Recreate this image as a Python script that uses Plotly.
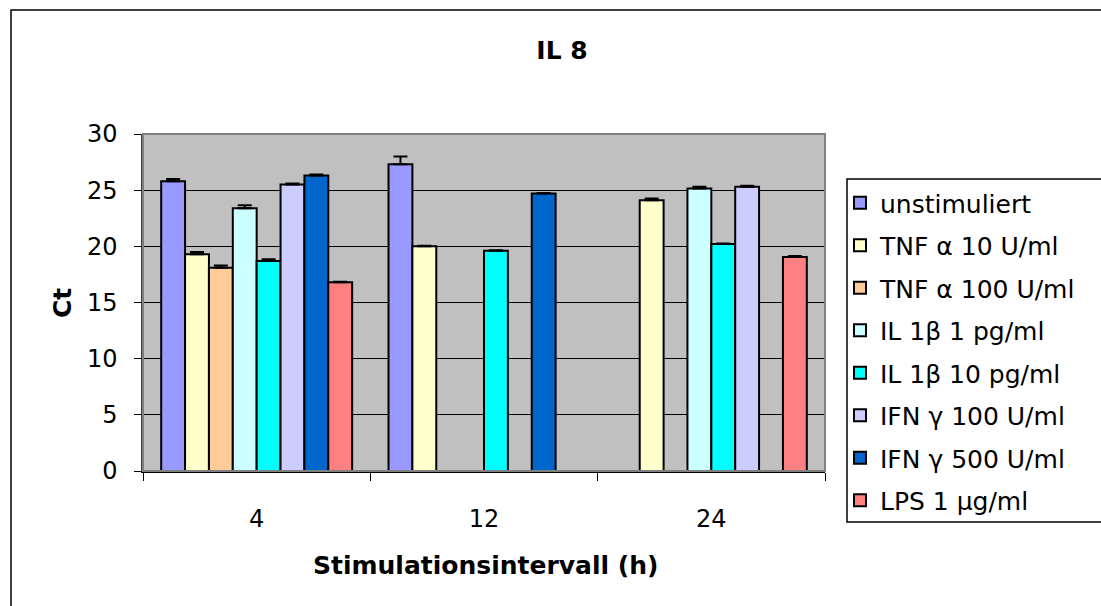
import plotly.graph_objects as go

categories = ["4", "12", "24"]
series_names = ["unstimuliert", "TNF α 10 U/ml", "TNF α 100 U/ml", "IL 1β 1 pg/ml",
                "IL 1β 10 pg/ml", "IFN γ 100 U/ml", "IFN γ 500 U/ml", "LPS 1 µg/ml"]
colors = ["#9999FF", "#FFFFCC", "#FFCC99", "#CCFFFF", "#00FFFF", "#CCCCFF", "#0066CC", "#FF8080"]

unstimuliert = [25.8, 27.3, 0]
tnf_10 = [19.3, 20.0, 24.1]
tnf_100 = [18.1, 0, 0]
il1b_1 = [23.4, 0, 25.15]
il1b_10 = [18.7, 19.6, 20.2]
ifn_100 = [25.5, 0, 25.3]
ifn_500 = [26.3, 24.7, 0]
lps = [16.8, 0, 19.05]

err_unstimuliert = [0.2, 0.7, 0]
err_tnf_10 = [0.2, 0.05, 0.15]
err_tnf_100 = [0.2, 0, 0]
err_il1b_1 = [0.25, 0, 0.15]
err_il1b_10 = [0.15, 0.05, 0.05]
err_ifn_100 = [0.1, 0, 0.1]
err_ifn_500 = [0.1, 0.05, 0]
err_lps = [0.05, 0, 0.1]

values = [unstimuliert, tnf_10, tnf_100, il1b_1, il1b_10, ifn_100, ifn_500, lps]
errors = [err_unstimuliert, err_tnf_10, err_tnf_100, err_il1b_1, err_il1b_10,
          err_ifn_100, err_ifn_500, err_lps]

y_ticks = [0, 5, 10, 15, 20, 25, 30]

FONT = "DejaVu Sans, Liberation Sans, Arial, sans-serif"

fig = go.Figure()
for i, name in enumerate(series_names):
    fig.add_trace(go.Bar(
        x=categories, y=values[i], name=name,
        legendgroup=f"g{i}",
        marker=dict(color=colors[i], line=dict(color="black", width=2)),
        error_y=dict(type="data", array=errors[i], arrayminus=[0] * len(errors[i]),
                     symmetric=False, color="black", thickness=2, width=7),
    ))

W, H = 1101, 606
L, R, T, B = 143, 825, 134, 471
pw, ph = R - L, B - T

def px(x):
    return (x - L) / pw

def py(y):
    return (B - y) / ph

shapes = [
    # outer chart border (cut off at right and bottom)
    dict(type="rect", xref="paper", yref="paper", x0=px(11), x1=px(1120), y0=py(620), y1=py(10),
         line=dict(color="black", width=1.5), layer="below"),
    # plot area border
    dict(type="rect", xref="paper", yref="paper", x0=0, x1=1, y0=0, y1=1,
         line=dict(color="#808080", width=2), layer="above"),
    # legend box
    dict(type="rect", xref="paper", yref="paper", x0=px(847), x1=px(1120), y0=py(522), y1=py(179),
         line=dict(color="black", width=1.5), fillcolor="white", layer="below"),
]

fig.update_layout(
    width=W, height=H,
    margin=dict(l=L, r=W - R, t=T, b=H - B),
    paper_bgcolor="white",
    plot_bgcolor="#C0C0C0",
    barmode="group",
    bargap=0.16,
    bargroupgap=0,
    font=dict(family=FONT, size=24, color="black"),
    title=dict(text="<b>IL 8</b>", x=562 / W, xanchor="center", y=1 - 50 / H, yanchor="middle",
               yref="container", font=dict(size=25, family=FONT, color="black")),
    showlegend=True,
    legend=dict(x=px(840), xanchor="left", y=py(180), yanchor="top",
                bgcolor="rgba(0,0,0,0)", borderwidth=0, maxheight=560,
                font=dict(size=25, family=FONT), traceorder="grouped", tracegroupgap=7),
    shapes=shapes,
    annotations=[
        dict(text="<b>Ct</b>", xref="paper", yref="paper", x=px(62), y=py(303),
             showarrow=False, textangle=-90, font=dict(size=25, family=FONT),
             xanchor="center", yanchor="middle"),
        dict(text="<b>Stimulationsintervall (h)</b>", xref="paper", yref="paper",
             x=px(485), y=py(565), showarrow=False, font=dict(size=25, family=FONT),
             xanchor="center", yanchor="middle"),
    ],
)

fig.update_xaxes(
    type="category", showline=True, linecolor="black", linewidth=1.5,
    ticks="outside", tickson="boundaries", ticklen=8, tickcolor="black",
    showgrid=False, tickfont=dict(size=24, family=FONT), ticklabelstandoff=25,
)
fig.update_yaxes(
    range=[0, 30], tickvals=y_ticks, showline=True, linecolor="#404040", linewidth=1.5,
    ticks="outside", ticklen=7, tickcolor="black",
    showgrid=True, gridcolor="black", gridwidth=1, zeroline=False,
    tickfont=dict(size=24, family=FONT), ticklabelstandoff=12,
)

fig.write_html("out.html")
